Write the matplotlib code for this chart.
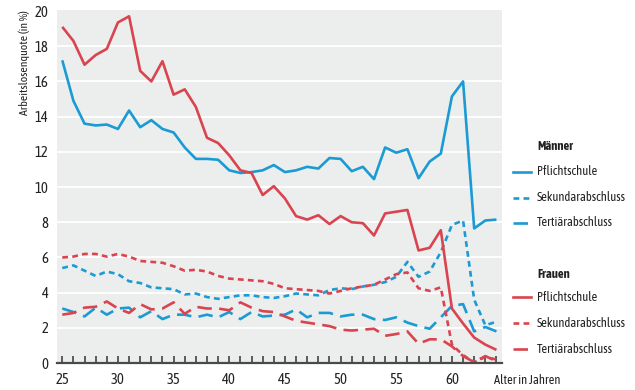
import numpy as np
import matplotlib
matplotlib.use('Agg')
import matplotlib.pyplot as plt
from matplotlib import font_manager as fm
from matplotlib.lines import Line2D

# pick a narrow family, preferring one that has a bold face
fams = {}
for f in fm.fontManager.ttflist:
    if 'Narrow' in f.name or 'Condensed' in f.name:
        w = f.weight if isinstance(f.weight, int) else (700 if 'bold' in str(f.weight) else 400)
        fams.setdefault(f.name, set()).add(w)
with_bold = sorted(n for n, ws in fams.items() if max(ws) >= 600 and min(ws) <= 500)
if with_bold:
    plt.rcParams['font.family'] = [with_bold[0], 'DejaVu Sans']
    fsz = 9
elif fams:
    plt.rcParams['font.family'] = [sorted(fams)[0], 'DejaVu Sans']
    fsz = 9
else:
    plt.rcParams['font.family'] = ['DejaVu Sans']
    fsz = 8.5

# ages 25..64
ages = list(range(25, 65))

# Maenner
m_pflicht = [17.2, 14.9, 13.6, 13.5, 13.55, 13.3, 14.35, 13.4, 13.8, 13.3,
             13.1, 12.25, 11.6, 11.6, 11.55, 10.95, 10.8, 10.85, 10.95, 11.25,
             10.85, 10.95, 11.15, 11.05, 11.65, 11.6, 10.9, 11.15, 10.45, 12.25,
             11.95, 12.15, 10.5, 11.45, 11.9, 15.15, 16.0, 7.65, 8.1, 8.15]
m_sekundar = [5.4, 5.55, 5.25, 4.95, 5.2, 5.05, 4.65, 4.55, 4.3, 4.25,
              4.2, 3.9, 3.95, 3.75, 3.65, 3.75, 3.85, 3.85, 3.75, 3.7,
              3.8, 3.95, 3.9, 3.85, 4.15, 4.25, 4.2, 4.35, 4.45, 4.6,
              4.9, 5.75, 4.9, 5.2, 6.3, 7.85, 8.1, 3.6, 2.15, 2.35]
m_tertiaer = [3.1, 2.9, 2.65, 3.15, 2.75, 3.1, 3.15, 2.6, 2.95, 2.5,
              2.75, 2.75, 2.6, 2.75, 2.6, 2.9, 2.5, 2.9, 2.65, 2.7,
              2.75, 3.05, 2.6, 2.85, 2.85, 2.65, 2.75, 2.75, 2.5, 2.45,
              2.6, 2.3, 2.1, 1.95, 2.6, 3.25, 3.35, 1.8, 2.05, 1.8]

# Frauen
f_pflicht = [19.1, 18.3, 16.95, 17.5, 17.85, 19.35, 19.7, 16.6, 16.0, 17.15,
             15.25, 15.55, 14.55, 12.8, 12.5, 11.8, 10.95, 10.8, 9.55, 10.05,
             9.35, 8.35, 8.15, 8.4, 7.9, 8.35, 8.0, 7.95, 7.25, 8.5,
             8.6, 8.7, 6.4, 6.55, 7.55, 3.1, 2.25, 1.45, 1.05, 0.75]
f_sekundar = [6.0, 6.05, 6.2, 6.2, 6.05, 6.2, 6.05, 5.8, 5.75, 5.7,
              5.5, 5.25, 5.3, 5.2, 4.95, 4.8, 4.75, 4.7, 4.65, 4.5,
              4.25, 4.2, 4.15, 4.1, 3.95, 4.1, 4.25, 4.35, 4.45, 4.75,
              5.05, 5.15, 4.25, 4.1, 4.3, 1.05, 0.45, 0.05, 0.35, 0.2]
f_tertiaer = [2.75, 2.85, 3.15, 3.2, 3.5, 3.1, 2.85, 3.35, 3.05, 3.1,
              3.45, 2.8, 3.2, 3.1, 3.1, 3.0, 3.45, 3.15, 2.95, 2.9,
              2.65, 2.4, 2.3, 2.2, 2.1, 1.9, 1.85, 1.9, 1.95, 1.55,
              1.65, 1.8, 1.1, 1.35, 1.35, 0.95, 0.4, 0.05, 0.4, 0.1]

blue = '#1b9ad3'
red = '#d9444f'
dotted = (0, (2.2, 1.6))
dashed = (0, (5.5, 2.8))
txt = '#222222'

groups = [
    ('Männer', [(m_pflicht, blue, '-', 'Pflichtschule'),
                (m_sekundar, blue, dotted, 'Sekundarabschluss'),
                (m_tertiaer, blue, dashed, 'Tertiärabschluss')]),
    ('Frauen', [(f_pflicht, red, '-', 'Pflichtschule'),
                (f_sekundar, red, dotted, 'Sekundarabschluss'),
                (f_tertiaer, red, dashed, 'Tertiärabschluss')]),
]

fig = plt.figure(figsize=(6.35, 3.9), dpi=100)
ax = fig.add_axes([0.0893, 0.069, 0.7013, 0.905])
ax.set_facecolor('#eceeee')

for title, series in groups:
    for vals, col, ls, lab in series:
        ax.plot(ages, vals, color=col, linestyle=ls, linewidth=1.9,
                solid_capstyle='butt', dash_capstyle='butt')

ax.set_xlim(24.5, 64.5)
ax.set_ylim(0, 20.05)
ax.set_yticks(range(0, 21, 2))
ax.set_xticks(range(25, 65))
ax.set_xticklabels([str(a) if a % 5 == 0 else '' for a in range(25, 65)])
for y in range(2, 20, 2):
    ax.axhline(y, color='white', linewidth=1.3, zorder=0.5)

for s in ['top', 'right', 'left']:
    ax.spines[s].set_visible(False)
ax.spines['bottom'].set_color('#4a4a4a')
ax.spines['bottom'].set_linewidth(1.6)
ax.tick_params(axis='x', direction='in', length=5, width=1.1, color='#333333',
               labelsize=fsz + 1.5, pad=7, labelcolor=txt)
ax.tick_params(axis='y', length=0, labelsize=fsz + 1.5, pad=6, labelcolor=txt)
ax.set_ylabel('Arbeitslosenquote (in %)', fontsize=fsz - 0.5, labelpad=3,
              color=txt, loc='top')

fig.text(494 / 635, 1 - 381 / 390, 'Alter in Jahren', fontsize=fsz,
         va='center', ha='left', color=txt)

# legend drawn by hand
W, H = 635, 390
title_y = [146, 274]
row_y = [[171.7, 197.7, 222.7], [297.3, 323.3, 349.3]]
for gi, (title, series) in enumerate(groups):
    fig.text(537 / W, 1 - title_y[gi] / H, title, fontsize=fsz, fontweight='bold',
             va='center', ha='left', color=txt)
    for si, (vals, col, ls, lab) in enumerate(series):
        yy = 1 - row_y[gi][si] / H
        fig.add_artist(Line2D([513 / W, 531 / W], [yy, yy], color=col,
                              linestyle=ls, linewidth=1.9,
                              transform=fig.transFigure))
        fig.text(537 / W, yy, lab, fontsize=fsz, va='center', ha='left',
                 color=txt)

fig.savefig('out.png', dpi=100)
